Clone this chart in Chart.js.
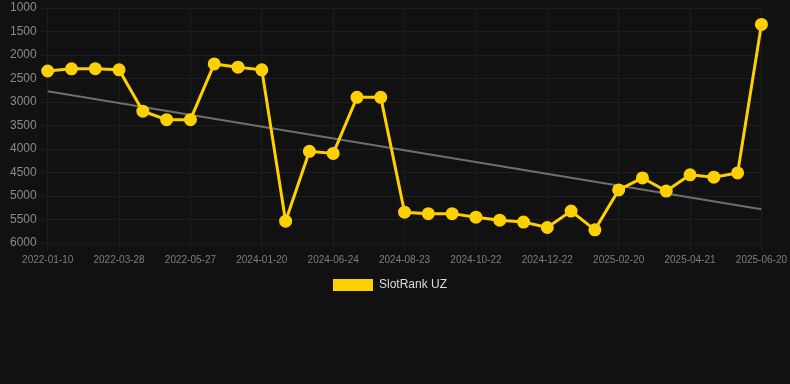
<!DOCTYPE html>
<html>
<head>
<meta charset="utf-8">
<script src="https://cdn.jsdelivr.net/npm/chart.js@4/dist/chart.umd.min.js"></script>
<style>
    html, body { margin: 0; padding: 0; background: #111111; }
    .wrap { width: 790px; height: 301px; position: relative; }
</style>
</head>
<body>
<div class="wrap"><canvas class="rank-chart"></canvas></div>
<script>
const dates = ["2022-01-10", "2022-02-03", "2022-03-02", "2022-03-28", "2022-04-17", "2022-05-07", "2022-05-27",
    "2023-06-15", "2023-10-08", "2024-01-20", "2024-03-12", "2024-05-04", "2024-06-24", "2024-07-14",
    "2024-08-03", "2024-08-23", "2024-09-12", "2024-10-02", "2024-10-22", "2024-11-11", "2024-12-01",
    "2024-12-22", "2025-01-10", "2025-01-30", "2025-02-20", "2025-03-12", "2025-04-01", "2025-04-21",
    "2025-05-11", "2025-05-31", "2025-06-20"]
const rank = [2340, 2295, 2290, 2315, 3195, 3375, 3375, 2190, 2260, 2315, 5535, 4050, 4095, 2900, 2900,
    5345, 5375, 5375, 5450, 5515, 5555, 5670, 5320, 5720, 4870, 4615, 4895, 4550, 4600, 4510, 1350]
const trendStart = 2770
const trendEnd = 5280
const yTicks = [1000, 6000, 500]

let trend = dates.map(() => null)
trend[0] = trendStart
trend[trend.length - 1] = trendEnd

const ctx = document.querySelector(".rank-chart")
const rankChart = new Chart(ctx, {
    type: 'line',
    data: {
        labels: dates,
        datasets: [{
            label: 'SlotRank UZ',
            data: rank,
            borderColor: '#ffd000',
            backgroundColor: '#ffd000',
            borderWidth: 3,
            pointRadius: 5,
            pointHoverRadius: 5,
            tension: 0
        }, {
            label: 'trend',
            data: trend,
            spanGaps: true,
            borderColor: '#6e6e6e',
            borderWidth: 2,
            pointRadius: 0
        }]
    },
    options: {
        responsive: true,
        maintainAspectRatio: false,
        animation: false,
        layout: { padding: { left: 7, right: 17, top: -2 } },
        plugins: {
            legend: {
                position: 'bottom',
                labels: {
                    color: '#dddddd',
                    font: { family: 'Liberation Sans, Arial', size: 12 },
                    generateLabels: function(chart) {
                        return [{
                            text: 'SlotRank UZ',
                            fillStyle: '#ffd000',
                            strokeStyle: '#ffd000',
                            lineWidth: 0,
                            fontColor: '#dddddd',
                            datasetIndex: 0
                        }]
                    }
                }
            },
            tooltip: { enabled: false }
        },
        scales: {
            x: {
                grid: { color: '#1c1c1c' },
                border: { color: '#1c1c1c' },
                ticks: {
                    color: '#7e7e7e',
                    font: { family: 'Liberation Sans, Arial', size: 10 },
                    autoSkip: false,
                    maxRotation: 0,
                    callback: function(value, index) {
                        return index % 3 === 0 ? dates[index] : null
                    }
                }
            },
            y: {
                reverse: true,
                min: yTicks[0],
                max: yTicks[1],
                grid: { color: '#1e1e1e' },
                border: { color: '#1e1e1e' },
                ticks: {
                    stepSize: yTicks[2],
                    color: '#8a8a8a',
                    font: { family: 'Liberation Sans, Arial', size: 12, lineHeight: 0.25 },
                    callback: value => String(value)
                }
            }
        }
    }
})
</script>
</body>
</html>
